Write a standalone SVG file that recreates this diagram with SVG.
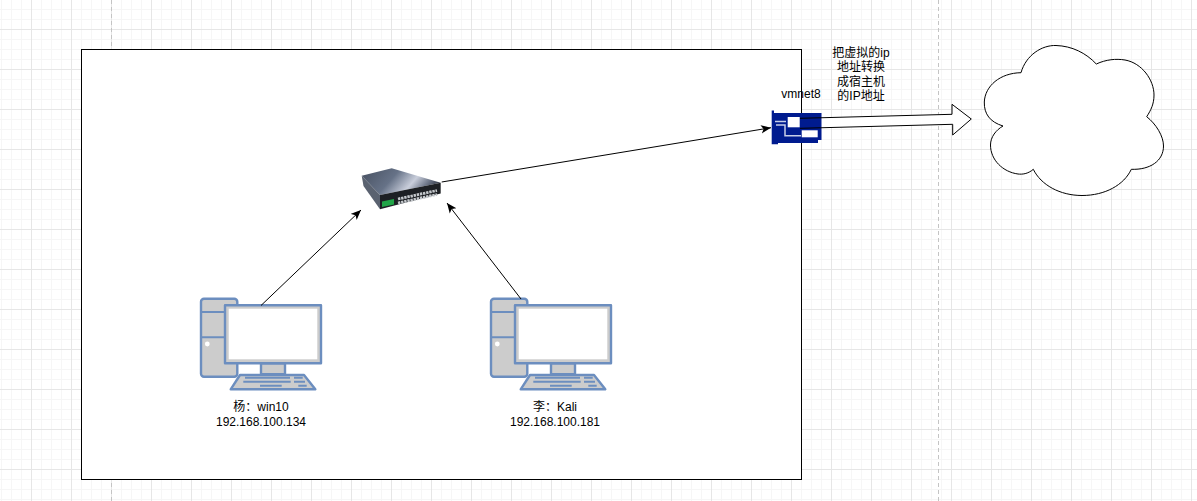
<svg xmlns="http://www.w3.org/2000/svg" width="1197" height="501" viewBox="0 0 1197 501">
<style>
text{font-family:"Liberation Sans","Noto Sans CJK SC",sans-serif;font-size:12px;fill:#000;text-anchor:middle}
.pc{fill:#ccc;stroke:#6c8ebf;stroke-width:2.4;stroke-linejoin:round}
.key{stroke:#6c8ebf;stroke-width:2;fill:none}
.edge{stroke:#000;stroke-width:1;fill:none;marker-end:url(#arrow)}
.shape{stroke:#000;stroke-width:1;fill:#fff}
</style>
<defs>
<pattern id="grid" x="31" y="29" width="40" height="40" patternUnits="userSpaceOnUse">
<path d="M10.5 0V40M20.5 0V40M30.5 0V40M0 10.5H40M0 20.5H40M0 30.5H40" stroke="#f6f6f6" stroke-width="1" fill="none"/>
<path d="M0.5 0V40M0 0.5H40" stroke="#e6e6e6" stroke-width="1" fill="none"/>
</pattern>
<marker id="arrow" markerUnits="userSpaceOnUse" markerWidth="12" markerHeight="10" refX="10" refY="5" orient="auto">
<path d="M0 0.8 L10 5 L0 9.200 L2.500 5 Z" fill="#000"/>
</marker>
<linearGradient id="top" x1="0" y1="0.2" x2="1" y2="0.5">
<stop offset="0" stop-color="#4a5364"/><stop offset="0.4" stop-color="#667287"/><stop offset="0.68" stop-color="#c9cedb"/><stop offset="0.86" stop-color="#6d7688"/><stop offset="1" stop-color="#343a47"/>
</linearGradient>
<g id="computer">
<rect class="pc" x="201" y="298.7" width="36.3" height="78" rx="3"/>
<path class="key" stroke-width="2.4" d="M201 312H237M201 337.3H237"/>
<circle cx="207.3" cy="344" r="2.4" fill="#fff"/>
<rect class="pc" x="261" y="363.3" width="24" height="11"/>
<rect class="pc" x="225" y="305.3" width="96" height="58"/>
<rect x="228.7" y="308.7" width="88.6" height="50.6" fill="#fff"/>
<path class="pc" d="M240 375H304L315.3 389.3H230.7Z"/>
<path class="key" d="M245 377.7H290M294 377.7H302.7M243.3 381.700H290.7M294 381.700H305M260 385.7H281.7M298.3 385.7H306.7"/>
</g>
</defs>
<rect width="1197" height="501" fill="#fff"/>
<rect width="1197" height="501" fill="url(#grid)"/>
<path d="M111.5 0V501M938.5 0V501" stroke="#c4c4c4" stroke-width="1" stroke-dasharray="4 3" fill="none"/>
<g id="frame"><rect class="shape" x="81.5" y="49.5" width="720" height="430"/></g>
<g id="cloud"><path class="shape" d="M1021 72.7C1026 55 1042 45 1056 45.5C1072 46 1086 53 1096.3 64C1106 59.5 1116 58.5 1125 60C1142 63 1154 80 1154 95C1154 104 1151 110 1146.7 116.7C1156 124 1163.500 136 1163.500 146C1163.500 161 1150 170 1131.300 169.300C1124 185 1105 195.500 1082 195.500C1060 195.500 1041 185 1033.300 169.300C1028 174 1022 174.500 1018 174C1003 172 990.500 160 990.500 145C990.500 137 996 130 1003 126C990 122 984 114 984.300 102C985 86 1000 73 1021 72.7Z"/></g>
<g id="flex-arrow-fill"><path d="M800 118.300L952 114.300V104.300L971.300 119L952.700 135V124.300L800 128.300Z" fill="#fff"/></g>
<g id="vmnet8">
<path d="M771.700 110.500H774V113H821.500V140H818V143H778V144.300H771.700Z" fill="#001b8f"/>
<rect x="787.700" y="117" width="12" height="10.300" fill="#fff"/>
<rect x="801.700" y="130.300" width="16" height="7" fill="#fff"/>
<path d="M775 121.500H786M776 125H785V135.700H801" stroke="#c7cee8" stroke-width="1.500" fill="none"/>
<text x="801" y="97.700">vmnet8</text>
</g>
<g id="flex-arrow"><path d="M800 118.300L952 114.300V104.300L971.300 119L952.700 135V124.300L800 128.300" fill="none" stroke="#000" stroke-width="1"/></g>
<g id="note">
<text x="861" y="56.500">把虚拟的ip</text>
<text x="861" y="71">地址转换</text>
<text x="861" y="85.500">成宿主机</text>
<text x="861" y="100">的IP地址</text>
</g>
<g id="switch">
<path d="M361.700 175.700L391.700 168.300L440.700 182.700L380 195Z" fill="url(#top)"/>
<path d="M361.700 175.700L380 195V209.300L363.500 186Z" fill="#5a6270"/>
<path d="M380 195L440.700 182.700V193.500L380 209.300Z" fill="#1d2024"/>
<path d="M382 201.500L394 199V204.500L382 207Z" fill="#21a548"/>
<path d="M398 199L437 190.500" stroke="#c3c7cb" stroke-width="2.800" stroke-dasharray="2.400 0.800" fill="none"/>
<path d="M398 203L437 194.500" stroke="#c3c7cb" stroke-width="2.800" stroke-dasharray="2.400 0.800" fill="none"/>
</g>
<g id="pc-yang">
<use href="#computer"/>
<text x="261" y="411">杨：win10</text>
<text x="261" y="425.500">192.168.100.134</text>
</g>
<g id="pc-li">
<use href="#computer" x="290"/>
<text x="555" y="411">李：Kali</text>
<text x="555" y="425.500">192.168.100.181</text>
</g>
<g id="connectors">
<path class="edge" d="M261 305.500L361 210"/>
<path class="edge" d="M521 299L447 203"/>
<path class="edge" d="M441.700 182L771 127.700"/>
</g>
</svg>
